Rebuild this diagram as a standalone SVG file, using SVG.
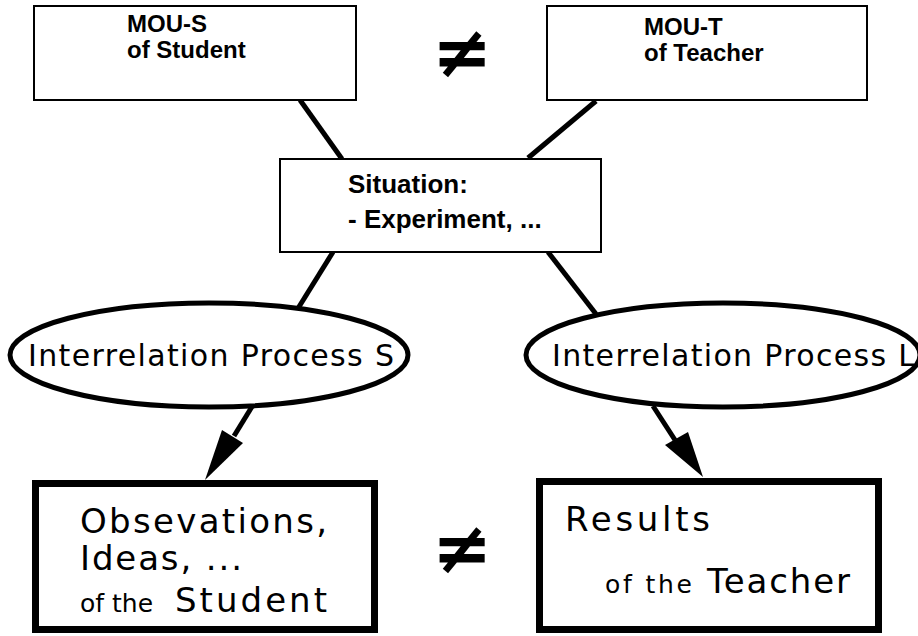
<svg xmlns="http://www.w3.org/2000/svg" width="918" height="636" viewBox="0 0 918 636">
<style>
.box{fill:#fff;stroke:#000;stroke-width:2}
.thick{fill:#fff;stroke:#000;stroke-width:7}
.ell{fill:#fff;stroke:#000;stroke-width:5}
.conn{stroke:#000;stroke-width:5;fill:none}
.head{fill:#000;stroke:none}
.b{font-family:"Liberation Sans",Arial,sans-serif;font-weight:bold;font-size:24px;fill:#000}
.s{font-size:26px}
.g{font-family:"DejaVu Sans",Verdana,sans-serif;fill:#000}
.neq{font-family:"DejaVu Sans",sans-serif;font-weight:bold;font-size:72px;fill:#000}
</style>
<rect width="918" height="636" fill="#fff"/>
<g id="connectors">
<line class="conn" x1="300" y1="100" x2="342" y2="159"/>
<line class="conn" x1="596" y1="101" x2="528" y2="158"/>
<line class="conn" x1="333" y1="252" x2="297" y2="310"/>
<line class="conn" x1="548" y1="252" x2="596" y2="314"/>
<line class="conn" x1="253" y1="405" x2="234" y2="436"/>
<polygon class="head" points="205,480 222,430 243,443"/>
<line class="conn" x1="653" y1="406" x2="675" y2="440"/>
<polygon class="head" points="703,477 665,445 688,432"/>
</g>
<g id="mou-s">
<rect class="box" x="34" y="6" width="322" height="94"/>
<text class="b" x="127" y="32">MOU-S</text>
<text class="b" x="127" y="58">of Student</text>
</g>
<g id="mou-t">
<rect class="box" x="547" y="6" width="320" height="94"/>
<text class="b" x="644" y="35">MOU-T</text>
<text class="b" x="644" y="61">of Teacher</text>
</g>
<g id="neq-top"><text class="neq" x="462" y="77" text-anchor="middle">≠</text></g>
<g id="situation">
<rect class="box" x="280" y="159" width="321" height="93"/>
<text class="b s" x="348" y="193">Situation:</text>
<text class="b s" x="348" y="228">- Experiment, ...</text>
</g>
<g id="process-s">
<ellipse class="ell" cx="209" cy="355" rx="199" ry="52"/>
<text class="g" x="28" y="366" font-size="30" textLength="366" lengthAdjust="spacing">Interrelation Process S</text>
</g>
<g id="process-l">
<ellipse class="ell" cx="723" cy="355" rx="197" ry="52"/>
<text class="g" x="552" y="366" font-size="30" textLength="363" lengthAdjust="spacing">Interrelation Process L</text>
</g>
<g id="student-results">
<rect class="thick" x="35.5" y="483.5" width="339" height="146"/>
<text class="g" x="80" y="533" font-size="34" textLength="247" lengthAdjust="spacing">Obsevations,</text>
<text class="g" x="80" y="570" font-size="34" textLength="162" lengthAdjust="spacing">Ideas, ...</text>
<text class="g" x="80" y="612"><tspan font-size="25">of the</tspan><tspan x="175" font-size="34" textLength="152" lengthAdjust="spacing">Student</tspan></text>
</g>
<g id="neq-bottom"><text class="neq" x="462" y="573" text-anchor="middle">≠</text></g>
<g id="teacher-results">
<rect class="thick" x="539.5" y="481.5" width="339" height="148"/>
<text class="g" x="565" y="531" font-size="34" textLength="145" lengthAdjust="spacing">Results</text>
<text class="g" x="605" y="593"><tspan font-size="25" textLength="87" lengthAdjust="spacing">of the</tspan><tspan x="707" font-size="34" textLength="143" lengthAdjust="spacing">Teacher</tspan></text>
</g>
</svg>
